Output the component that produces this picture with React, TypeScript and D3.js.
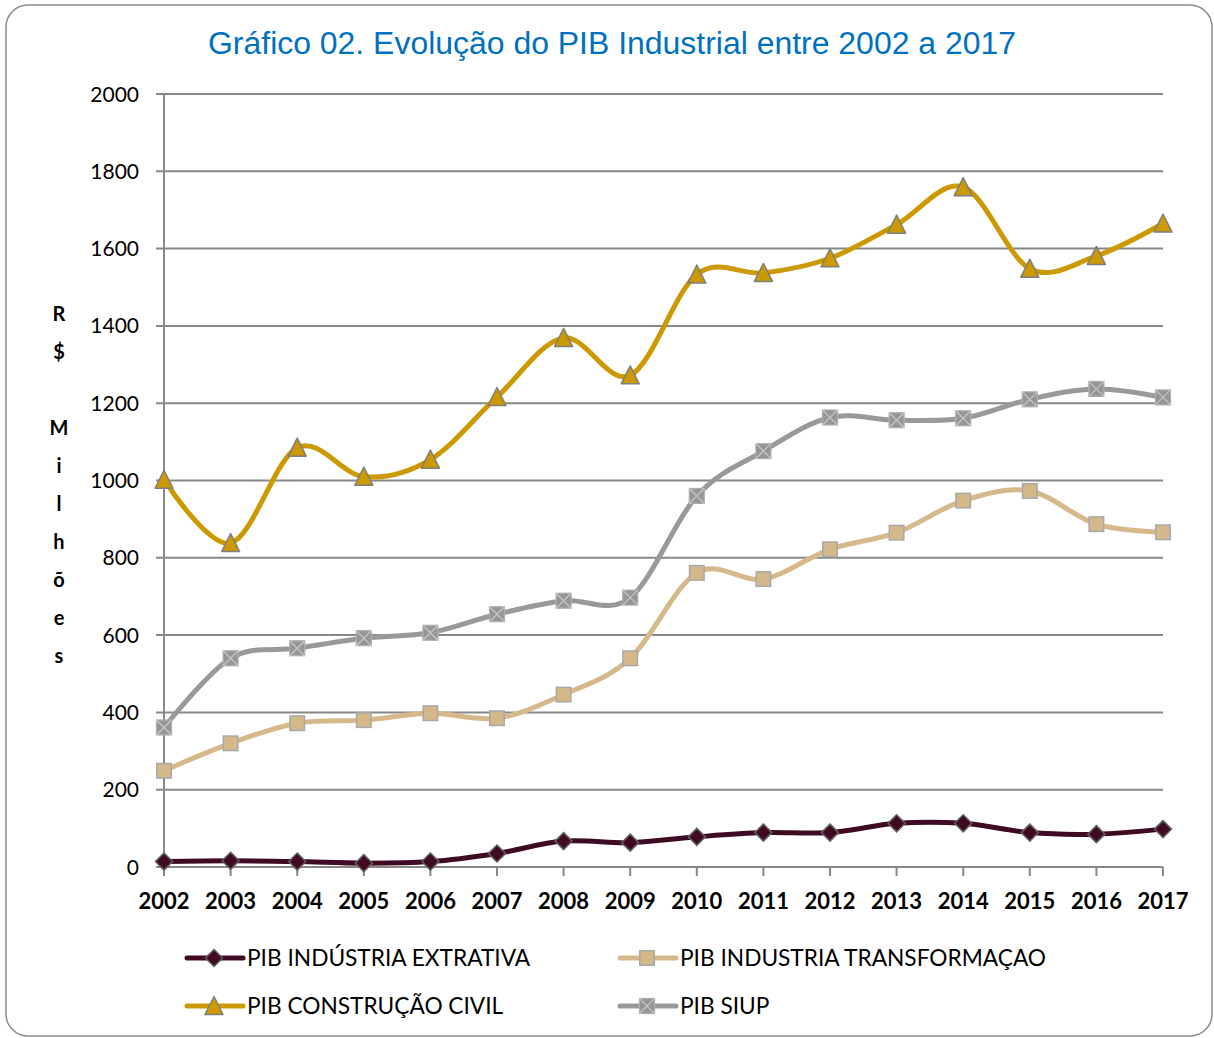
import React from "react";
import * as d3 from "d3";

const years = ["2002","2003","2004","2005","2006","2007","2008","2009","2010","2011","2012","2013","2014","2015","2016","2017"];
const extrativa = [14, 16, 14, 10, 14, 35, 67, 63, 78, 89, 89, 113, 113, 89, 85, 98];
const transformacao = [249, 320, 372, 380, 398, 385, 446, 540, 761, 745, 822, 865, 948, 973, 887, 866];
const construcao = [1002, 838, 1085, 1010, 1054, 1216, 1369, 1272, 1533, 1537, 1575, 1662, 1759, 1548, 1581, 1665];
const siup = [361, 540, 566, 592, 606, 654, 689, 697, 960, 1076, 1163, 1156, 1161, 1210, 1237, 1215];
const yTicks = [0, 200, 400, 600, 800, 1000, 1200, 1400, 1600, 1800, 2000];
const yTitleChars = ["R", "$", " ", "M", "i", "l", "h", "õ", "e", "s"];

const series = [
  { name: "PIB INDÚSTRIA EXTRATIVA", values: extrativa, color: "#3F0A22", marker: "diamond" },
  { name: "PIB INDUSTRIA TRANSFORMAÇAO", values: transformacao, color: "#D6B98B", marker: "square" },
  { name: "PIB CONSTRUÇÃO CIVIL", values: construcao, color: "#CC9900", marker: "triangle" },
  { name: "PIB SIUP", values: siup, color: "#999999", marker: "xsquare" },
];

function Marker({ type, x, y }: { type: string; x: number; y: number }) {
  if (type === "diamond") {
    const r = 8.5;
    return <path d={`M${x},${y - r}L${x + r},${y}L${x},${y + r}L${x - r},${y}Z`} fill="#3F0A22" stroke="#5F5F5F" strokeWidth={1.5} />;
  }
  if (type === "square") {
    const s = 14.5;
    return <rect x={x - s / 2} y={y - s / 2} width={s} height={s} fill="#D4B88A" stroke="#A8A8A8" strokeWidth={1.5} />;
  }
  if (type === "triangle") {
    const w = 18, h = 17;
    return <path d={`M${x},${y - h / 2 - 1}L${x + w / 2},${y + h / 2}L${x - w / 2},${y + h / 2}Z`} fill="#CC9900" stroke="#7F7F7F" strokeWidth={1.5} strokeLinejoin="round" />;
  }
  const s = 15;
  return (
    <g>
      <rect x={x - s / 2} y={y - s / 2} width={s} height={s} fill="#969696" stroke="#B0B0B0" strokeWidth={1.2} />
      <path d={`M${x - s / 2},${y - s / 2}L${x + s / 2},${y + s / 2}M${x + s / 2},${y - s / 2}L${x - s / 2},${y + s / 2}`} stroke="#C4C4C4" strokeWidth={1.3} />
    </g>
  );
}

export default function App() {
  const W = 1214, H = 1038;
  const x = d3.scalePoint<string>().domain(years).range([164, 1163]);
  const y = d3.scaleLinear().domain([0, 2000]).range([867, 94]);
  const line = d3
    .line<number>()
    .x((_, i) => x(years[i]) as number)
    .y((d) => y(d))
    .curve(d3.curveCatmullRom.alpha(0));
  const axisFont = "Lato, 'Open Sans', sans-serif";
  const legendPos = [
    { lx: 187, ly: 958 },
    { lx: 620, ly: 958 },
    { lx: 187, ly: 1006 },
    { lx: 620, ly: 1006 },
  ];
  return (
    <svg width={W} height={H} style={{ position: "absolute", left: 0, top: 0 }}>
      <rect x={0} y={0} width={W} height={H} fill="#fff" />
      <rect x={6} y={5} width={1206} height={1031} rx={22} ry={22} fill="#fff" stroke="#8A8A8A" strokeWidth={1.5} />
      <text x={612} y={54} textAnchor="middle" fontFamily="'Liberation Sans', Arial, sans-serif" fontSize={31} textLength={808} lengthAdjust="spacingAndGlyphs" fill="#0070C0">
        Gráfico 02. Evolução do PIB Industrial entre 2002 a 2017
      </text>
      {yTicks.map((t) => (
        <g key={t}>
          <line x1={156} x2={1163} y1={y(t)} y2={y(t)} stroke="#888" strokeWidth={2} />
          <text x={139} y={y(t) + 7.5} textAnchor="end" fontFamily={axisFont} fontSize={21} fill="#000">
            {t}
          </text>
        </g>
      ))}
      <line x1={164} x2={164} y1={94} y2={867} stroke="#888" strokeWidth={2} />
      {years.map((yr) => (
        <g key={yr}>
          <line x1={x(yr)} x2={x(yr)} y1={867} y2={876} stroke="#888" strokeWidth={2} />
          <text x={x(yr)} y={909} textAnchor="middle" fontFamily={axisFont} fontWeight="bold" fontSize={22} fill="#000">
            {yr}
          </text>
        </g>
      ))}
      {yTitleChars.map((c, i) => (
        <text key={i} x={59} y={321 + i * 38} textAnchor="middle" fontFamily={axisFont} fontWeight="bold" fontSize={20} fill="#000">
          {c}
        </text>
      ))}
      {series.map((s) => (
        <g key={s.name}>
          <path d={line(s.values) || ""} fill="none" stroke={s.color} strokeWidth={5} strokeLinecap="round" strokeLinejoin="round" />
          {s.values.map((v, i) => (
            <Marker key={i} type={s.marker} x={x(years[i]) as number} y={y(v)} />
          ))}
        </g>
      ))}
      {series.map((s, i) => {
        const { lx, ly } = legendPos[i];
        return (
          <g key={s.name}>
            <line x1={lx} x2={lx + 56} y1={ly} y2={ly} stroke={s.color} strokeWidth={5} strokeLinecap="round" />
            <Marker type={s.marker} x={lx + 27} y={ly} />
            <text x={lx + 60} y={ly + 8} fontFamily={axisFont} fontSize={22.7} fill="#000">
              {s.name}
            </text>
          </g>
        );
      })}
    </svg>
  );
}
